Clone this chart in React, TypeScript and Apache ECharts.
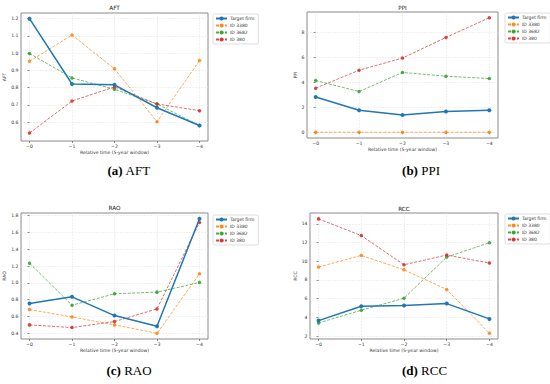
import React, { useEffect, useRef } from "react";
import * as echarts from "echarts";

const xValues = [0, 1, 2, 3, 4];
const seriesNames = ["Target firm", "ID 3380", "ID 3682", "ID 380"];
const colors = ["#1f77b4", "#ff7f0e", "#2ca02c", "#d62728"];

const aftTarget = [1.2, 0.821, 0.816, 0.683, 0.58];
const aft3380 = [0.953, 1.105, 0.909, 0.602, 0.957];
const aft3682 = [0.998, 0.856, 0.79, 0.705, 0.58];
const aft380 = [0.536, 0.722, 0.804, 0.705, 0.666];

const ppiTarget = [2.83, 1.76, 1.39, 1.66, 1.76];
const ppi3380 = [0, 0, 0, 0, 0];
const ppi3682 = [4.14, 3.26, 4.79, 4.49, 4.3];
const ppi380 = [3.53, 4.97, 5.94, 7.59, 9.17];

const raoTarget = [0.754, 0.834, 0.611, 0.484, 1.764];
const rao3380 = [0.682, 0.595, 0.5, 0.4, 1.108];
const rao3682 = [1.235, 0.734, 0.87, 0.89, 1.005];
const rao380 = [0.5, 0.468, 0.54, 0.69, 1.72];

const rccTarget = [3.65, 5.19, 5.26, 5.47, 3.83];
const rcc3380 = [9.38, 10.63, 9.09, 6.98, 2.29];
const rcc3682 = [3.4, 4.76, 6.05, 10.45, 11.99];
const rcc380 = [14.54, 12.75, 9.63, 10.67, 9.81];

const aftTicks = [0.6, 0.7, 0.8, 0.9, 1.0, 1.1, 1.2];
const ppiTicks = [0, 2, 4, 6, 8];
const raoTicks = [0.4, 0.6, 0.8, 1.0, 1.2, 1.4, 1.6, 1.8];
const rccTicks = [2, 4, 6, 8, 10, 12, 14];

const panelTitles = ["AFT", "PPI", "RAO", "RCC"];
const captionLetters = ["(a)", "(b)", "(c)", "(d)"];

export default function App() {
  const ref = useRef<HTMLDivElement>(null);
  useEffect(() => {
    if (!ref.current) return;
    const chart = echarts.init(ref.current, undefined, { renderer: "svg" });

    const panels = [
      { data: [aftTarget, aft3380, aft3682, aft380], ticks: aftTicks, min: 0.49, max: 1.233, dec: 1,
        grid: { left: 21, top: 13, width: 187, height: 128 }, legend: { left: 213, top: 14 },
        title: [114.5, 8.3], caption: [129, 170], nameGap: 13 },
      { data: [ppiTarget, ppi3380, ppi3682, ppi380], ticks: ppiTicks, min: -0.46, max: 9.63, dec: 0,
        grid: { left: 307, top: 12, width: 191, height: 126 }, legend: { left: 505, top: 13 },
        title: [402.5, 8.3], caption: [421, 170], nameGap: 8 },
      { data: [raoTarget, rao3380, rao3682, rao380], ticks: raoTicks, min: 0.332, max: 1.832, dec: 1,
        grid: { left: 21, top: 213, width: 187, height: 126 }, legend: { left: 213, top: 215 },
        title: [114.5, 208], caption: [129, 370], nameGap: 13 },
      { data: [rccTarget, rcc3380, rcc3682, rcc380], ticks: rccTicks, min: 1.68, max: 15.17, dec: 0,
        grid: { left: 310, top: 213, width: 188, height: 126 }, legend: { left: 505, top: 214 },
        title: [404, 208.5], caption: [424.5, 370], nameGap: 9 },
    ];

    const font = "DejaVu Sans";
    const grids: any[] = [];
    const xAxes: any[] = [];
    const yAxes: any[] = [];
    const series: any[] = [];
    const legends: any[] = [];
    const graphics: any[] = [];

    panels.forEach((p, i) => {
      grids.push({ ...p.grid, show: true, borderColor: "#8a8a8a", borderWidth: 1, backgroundColor: "#fff", containLabel: false });
      xAxes.push({
        type: "value", gridIndex: i, min: -0.2, max: 4.2,
        name: "Relative time (5-year window)", nameLocation: "middle", nameGap: 9,
        nameTextStyle: { fontSize: 4.6, color: "#333", fontFamily: font },
        axisLine: { show: false },
        axisTick: { show: true, length: 2, lineStyle: { color: "#444", width: 0.6 }, customValues: xValues },
        axisLabel: { fontSize: 4.6, color: "#333", fontFamily: font, margin: 2.5, customValues: xValues,
          formatter: (v: number) => "\u2212" + v },
        splitLine: { show: true, lineStyle: { color: "#e2e2e2", width: 0.5, type: [2, 1] } },
      });
      yAxes.push({
        type: "value", gridIndex: i, min: p.min, max: p.max,
        name: panelTitles[i], nameLocation: "middle", nameGap: p.nameGap, nameRotate: 90,
        nameTextStyle: { fontSize: 4.6, color: "#333", fontFamily: font },
        axisLine: { show: false },
        axisTick: { show: true, length: 2, lineStyle: { color: "#444", width: 0.6 }, customValues: p.ticks },
        axisLabel: { fontSize: 4.6, color: "#333", fontFamily: font, margin: 2.5, customValues: p.ticks,
          formatter: (v: number) => v.toFixed(p.dec) },
        splitLine: { show: true, lineStyle: { color: "#e2e2e2", width: 0.5, type: [2, 1] } },
      });
      p.data.forEach((vals, k) => {
        series.push({
          type: "line", name: seriesNames[k], xAxisIndex: i, yAxisIndex: i,
          data: xValues.map((x, j) => [x, vals[j]]),
          symbol: "circle", symbolSize: k === 0 ? 4 : 3.5,
          itemStyle: { color: colors[k], opacity: k === 0 ? 1 : 0.85 },
          lineStyle: { color: colors[k], width: k === 0 ? 1.5 : 0.8, type: k === 0 ? "solid" : [3, 1.5], opacity: k === 0 ? 1 : 0.85 },
          z: k === 0 ? 3 : 2,
        });
      });
      legends.push({
        ...p.legend, orient: "vertical", data: seriesNames,
        itemWidth: 11, itemHeight: 5, itemGap: 2,
        padding: [2, 4, 2, 2], borderColor: "#d0d0d0", borderWidth: 0.7, borderRadius: 1.5,
        backgroundColor: "#fff",
        textStyle: { fontSize: 4.5, color: "#333", fontFamily: font, lineHeight: 5, padding: [0, 0, 0, -2] },
        selectedMode: false,
      });
      graphics.push({
        type: "text", x: p.title[0], y: p.title[1],
        style: { text: panelTitles[i], fontSize: 5.7, fontFamily: font, fill: "#222", align: "center", verticalAlign: "middle" },
      });
      graphics.push({
        type: "text", x: p.caption[0], y: p.caption[1],
        style: {
          text: "{b|" + captionLetters[i] + "}{n| " + panelTitles[i] + "}",
          fontSize: 13, fontFamily: "Liberation Serif", fontWeight: "normal", fill: "#000", align: "center", verticalAlign: "middle",
          rich: {
            b: { fontSize: 13, fontFamily: "Liberation Serif", fontWeight: "bold", fill: "#000" },
            n: { fontSize: 13, fontFamily: "Liberation Serif", fontWeight: "normal", fill: "#000" },
          },
        },
      });
    });

    chart.setOption({
      animation: false,
      backgroundColor: "#fff",
      grid: grids,
      xAxis: xAxes,
      yAxis: yAxes,
      series,
      legend: legends,
      graphic: graphics,
    });
    return () => chart.dispose();
  }, []);
  return <div ref={ref} style={{ position: "absolute", left: 0, top: 0, width: 550, height: 384 }} />;
}
